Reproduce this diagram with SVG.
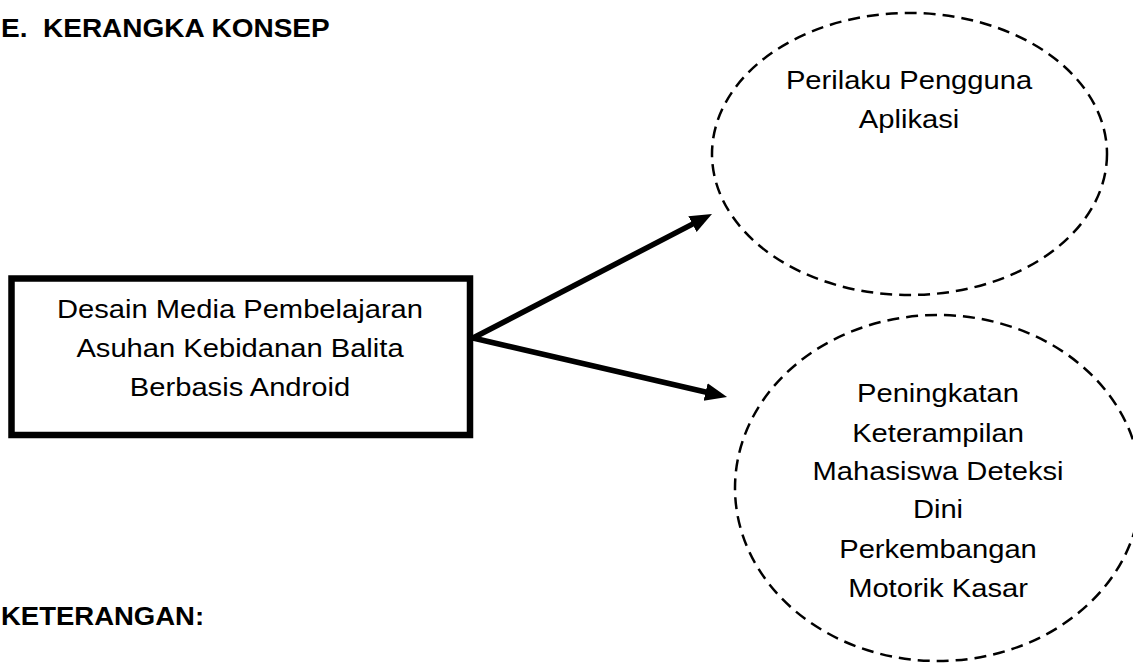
<svg xmlns="http://www.w3.org/2000/svg" width="1133" height="663" viewBox="0 0 1133 663">
<style>
.t{font-family:"Liberation Sans",Arial,sans-serif;font-size:26.5px;fill:#000;text-anchor:middle}
.h{font-family:"Liberation Sans",Arial,sans-serif;font-size:25px;font-weight:bold;fill:#000}
.dash{fill:none;stroke:#000;stroke-width:2.5;stroke-dasharray:12 7}
.con{stroke:#000;stroke-width:5.5;fill:none}
</style>
<defs>
<marker id="arr" markerUnits="userSpaceOnUse" markerWidth="24" markerHeight="20" refX="12" refY="9" orient="auto">
<path d="M0,0 L22,9 L0,18 z" fill="#000"/>
</marker>
</defs>
<rect width="1133" height="663" fill="#fff"/>
<g id="title">
<g transform="translate(1,37) scale(1.12,1)"><text class="h" x="0" y="0">E.</text></g>
<g transform="translate(43,37) scale(1.12,1)"><text class="h" x="0" y="0">KERANGKA KONSEP</text></g>
</g>
<g id="keterangan">
<g transform="translate(1,625) scale(1.1,1)"><text class="h" x="0" y="0">KETERANGAN:</text></g>
</g>
<g id="connectors">
<line class="con" x1="473" y1="338" x2="703.1" y2="218.6" marker-end="url(#arr)"/>
<line class="con" x1="473" y1="338" x2="717.3" y2="394.7" marker-end="url(#arr)"/>
</g>
<g id="node-desain">
<rect x="11.5" y="278.5" width="458.5" height="156.5" fill="none" stroke="#000" stroke-width="6.5"/>
<g transform="translate(240,0) scale(1.1,1)">
<text class="t" x="0" y="318">Desain Media Pembelajaran</text>
<text class="t" x="0" y="357">Asuhan Kebidanan Balita</text>
<text class="t" x="0" y="396">Berbasis Android</text>
</g>
</g>
<g id="node-perilaku">
<ellipse class="dash" cx="909.5" cy="154" rx="197.5" ry="141"/>
<g transform="translate(909,0) scale(1.1,1)">
<text class="t" x="0" y="89">Perilaku Pengguna</text>
<text class="t" x="0" y="128">Aplikasi</text>
</g>
</g>
<g id="node-peningkatan">
<ellipse class="dash" cx="938" cy="488" rx="203" ry="173"/>
<g transform="translate(938,0) scale(1.1,1)">
<text class="t" x="0" y="402">Peningkatan</text>
<text class="t" x="0" y="442">Keterampilan</text>
<text class="t" x="0" y="480">Mahasiswa Deteksi</text>
<text class="t" x="0" y="518">Dini</text>
<text class="t" x="0" y="558">Perkembangan</text>
<text class="t" x="0" y="597">Motorik Kasar</text>
</g>
</g>
</svg>
